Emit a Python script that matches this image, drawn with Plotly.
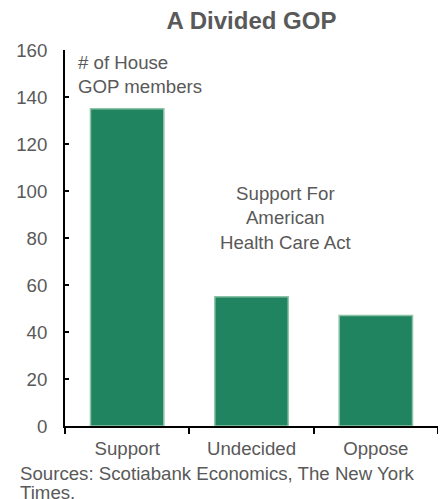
import plotly.graph_objects as go

categories = ["Support", "Undecided", "Oppose"]
members = [135, 55, 47]
y_ticks = [0, 20, 40, 60, 80, 100, 120, 140, 160]

TXT = "#595959"
FONT = "Liberation Sans, Arial, sans-serif"
FS = 18.67

# page body has an 8px default margin, so the figure is sized to fill the rest
W, H = 438, 491
PLOT_BOTTOM, PLOT_H = 418, 376  # figure pixels


def py(page_y):
    """page pixel row -> paper y coordinate"""
    return (PLOT_BOTTOM - (page_y - 8)) / PLOT_H


fig = go.Figure(go.Bar(
    x=categories, y=members, width=0.59,
    marker=dict(color="#1f845f", line=dict(color="#8cc3a8", width=1.5)),
    hoverinfo="x+y",
))

fig.update_layout(
    width=W, height=H,
    margin=dict(l=54, r=8, t=42, b=73),
    plot_bgcolor="white", paper_bgcolor="white",
    font=dict(family=FONT, size=FS, color=TXT),
    showlegend=False,
    title=dict(text="<b>A Divided GOP</b>", x=0.5, xanchor="center",
               y=1 - 13 / H, yanchor="middle", xref="paper",
               font=dict(size=24, color=TXT)),
)
fig.update_yaxes(
    range=[0, 160], tickvals=y_ticks, showgrid=False, zeroline=False,
    showline=True, linecolor="black", linewidth=2,
    ticks="inside", ticklen=4, tickcolor="black", tickwidth=1.5,
    ticklabelstandoff=12,
)
fig.update_xaxes(
    range=[-0.5, 2.5], showgrid=False, showline=True, linecolor="black", linewidth=2,
    ticks="outside", tickson="boundaries", ticklen=6, tickcolor="black", tickwidth=1.5,
    ticklabelstandoff=5,
)
fig.add_annotation(text="# of House<br>GOP members", xref="paper", yref="paper",
                   x=0.03, y=1.0, xanchor="left", yanchor="top", align="left",
                   showarrow=False, font=dict(size=FS, color=TXT))
fig.add_annotation(text="Support For<br>American<br>Health Care Act", xref="paper", yref="paper",
                   x=0.59, y=0.553, xanchor="center", yanchor="middle", align="center",
                   showarrow=False, font=dict(size=FS, color=TXT))
fig.add_annotation(text="Sources: Scotiabank Economics, The New York",
                   xref="paper", yref="paper", x=-0.125, y=py(473),
                   xanchor="left", yanchor="middle", align="left",
                   showarrow=False, font=dict(size=FS, color=TXT))
fig.add_annotation(text="Times.",
                   xref="paper", yref="paper", x=-0.125, y=py(493),
                   xanchor="left", yanchor="middle", align="left",
                   showarrow=False, font=dict(size=FS, color=TXT))

fig.write_html("out.html")
